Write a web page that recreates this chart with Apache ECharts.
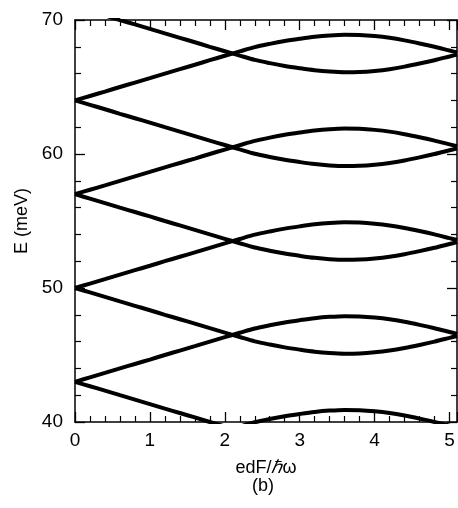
<!DOCTYPE html>
<html>
<head>
<meta charset="utf-8">
<script src="https://cdn.jsdelivr.net/npm/echarts@6/dist/echarts.min.js"></script>
<style>
  html, body { margin: 0; padding: 0; background: #fff; }
  #chart { width: 458px; height: 508px; }
</style>
</head>
<body>
<div id="chart"></div>
<script>
// field strength edF/hw where the levels were read
const fieldValues = [0, 0.2, 0.4, 0.6, 0.8, 1.0, 1.2, 1.4, 1.6, 1.8, 2.0, 2.2, 2.4, 2.6, 2.8,
  3.0, 3.2, 3.4, 3.6, 3.8, 4.0, 4.2, 4.4, 4.6, 4.8, 5.0, 5.1];

// quasi-energy levels (meV)
const levelUp36 = [36, 36.33, 36.66, 37, 37.33, 37.66, 38, 38.33, 38.66, 39, 39.33, 39.66, 39.98, 40.22, 40.43,
  40.6, 40.75, 40.85, 40.9, 40.88, 40.8, 40.67, 40.48, 40.25, 40, 39.72, 39.58];
const levelDown43 = [43, 42.67, 42.34, 42, 41.67, 41.34, 41, 40.67, 40.34, 40, 39.67, 39.34, 39.02, 38.78, 38.57,
  38.4, 38.25, 38.15, 38.1, 38.12, 38.2, 38.33, 38.52, 38.75, 39, 39.28, 39.42];
const levelUp43 = [43, 43.33, 43.66, 44, 44.33, 44.66, 45, 45.33, 45.66, 46, 46.33, 46.66, 46.98, 47.22, 47.43,
  47.6, 47.75, 47.85, 47.9, 47.88, 47.8, 47.67, 47.48, 47.25, 47, 46.72, 46.58];
const levelDown50 = [50, 49.67, 49.34, 49, 48.67, 48.34, 48, 47.67, 47.34, 47, 46.67, 46.34, 46.02, 45.78, 45.57,
  45.4, 45.25, 45.15, 45.1, 45.12, 45.2, 45.33, 45.52, 45.75, 46, 46.28, 46.42];
const levelUp50 = [50, 50.33, 50.66, 51, 51.33, 51.66, 52, 52.33, 52.66, 53, 53.33, 53.66, 53.98, 54.22, 54.43,
  54.6, 54.75, 54.85, 54.9, 54.88, 54.8, 54.67, 54.48, 54.25, 54, 53.72, 53.58];
const levelDown57 = [57, 56.67, 56.34, 56, 55.67, 55.34, 55, 54.67, 54.34, 54, 53.67, 53.34, 53.02, 52.78, 52.57,
  52.4, 52.25, 52.15, 52.1, 52.12, 52.2, 52.33, 52.52, 52.75, 53, 53.28, 53.42];
const levelUp57 = [57, 57.33, 57.66, 58, 58.33, 58.66, 59, 59.33, 59.66, 60, 60.33, 60.66, 60.98, 61.22, 61.43,
  61.6, 61.75, 61.85, 61.9, 61.88, 61.8, 61.67, 61.48, 61.25, 61, 60.72, 60.58];
const levelDown64 = [64, 63.67, 63.34, 63, 62.67, 62.34, 62, 61.67, 61.34, 61, 60.67, 60.34, 60.02, 59.78, 59.57,
  59.4, 59.25, 59.15, 59.1, 59.12, 59.2, 59.33, 59.52, 59.75, 60, 60.28, 60.42];
const levelUp64 = [64, 64.33, 64.66, 65, 65.33, 65.66, 66, 66.33, 66.66, 67, 67.33, 67.66, 67.98, 68.22, 68.43,
  68.6, 68.75, 68.85, 68.9, 68.88, 68.8, 68.67, 68.48, 68.25, 68, 67.72, 67.58];
const levelDown71 = [71, 70.67, 70.34, 70, 69.67, 69.34, 69, 68.67, 68.34, 68, 67.67, 67.34, 67.02, 66.78, 66.57,
  66.4, 66.25, 66.15, 66.1, 66.12, 66.2, 66.33, 66.52, 66.75, 67, 67.28, 67.42];

const levels = [levelUp36, levelDown43, levelUp43, levelDown50, levelUp50, levelDown57,
  levelUp57, levelDown64, levelUp64, levelDown71];

const xTicks = [0, 1, 2, 3, 4, 5];
const yTicks = [40, 50, 60, 70];

const font = '"Liberation Sans", Arial, Helvetica, sans-serif';
const chart = echarts.init(document.getElementById('chart'), null, { renderer: 'canvas' });

function axisBase(extra) {
  return Object.assign({
    type: 'value',
    axisLine: { show: true, onZero: false, lineStyle: { color: '#000', width: 1.5 } },
    axisTick: { show: true, inside: true, length: 10, lineStyle: { color: '#000', width: 1.3 } },
    minorTick: { show: true, splitNumber: 5, length: 6, lineStyle: { color: '#000', width: 1.2 } },
    splitLine: { show: false },
    minorSplitLine: { show: false },
  }, extra);
}

const xMain = {
  min: 0, max: 5.1, interval: 1,
  axisLabel: {
    color: '#000', fontSize: 19, fontFamily: font, margin: 9,
    showMaxLabel: false,
    formatter: (v) => (xTicks.includes(v) ? String(v) : ''),
  },
};

chart.setOption({
  animation: false,
  backgroundColor: '#fff',
  grid: { left: 75, right: 1, top: 20, bottom: 86, containLabel: false },
  xAxis: [
    axisBase(Object.assign({}, xMain, {
      position: 'bottom',
      name: '{a|edF/}{i|ℏ}{a|ω}',
      nameLocation: 'middle',
      nameGap: 37,
      nameTextStyle: {
        rich: {
          a: { fontSize: 18, fontFamily: font, color: '#000' },
          i: { fontSize: 18, fontFamily: font, fontStyle: 'italic', color: '#000' },
        },
      },
    })),
    axisBase(Object.assign({}, xMain, { position: 'top', axisLabel: { show: false } })),
  ],
  yAxis: [
    axisBase({
      min: 40, max: 70, interval: 10,
      position: 'left',
      name: 'E (meV)',
      nameLocation: 'middle',
      nameGap: 41,
      nameTextStyle: { fontSize: 18, fontFamily: font, color: '#000' },
      axisLabel: {
        color: '#000', fontSize: 19, fontFamily: font, margin: 12,
        formatter: (v) => (yTicks.includes(v) ? String(v) : ''),
      },
    }),
    axisBase({
      min: 40, max: 70, interval: 10,
      position: 'right',
      axisLabel: { show: false },
    }),
  ],
  graphic: [{
    type: 'text',
    left: 252,
    top: 477,
    style: { text: '(b)', fontSize: 18, fontFamily: font, fill: '#000' },
  }],
  series: levels.map((vals, i) => ({
    name: 'level' + i,
    type: 'line',
    xAxisIndex: 0,
    yAxisIndex: 0,
    data: fieldValues.map((x, j) => [x, vals[j]]),
    smooth: 0.3,
    showSymbol: false,
    clip: true,
    lineStyle: { color: '#000', width: 4 },
  })),
});
</script>
</body>
</html>
